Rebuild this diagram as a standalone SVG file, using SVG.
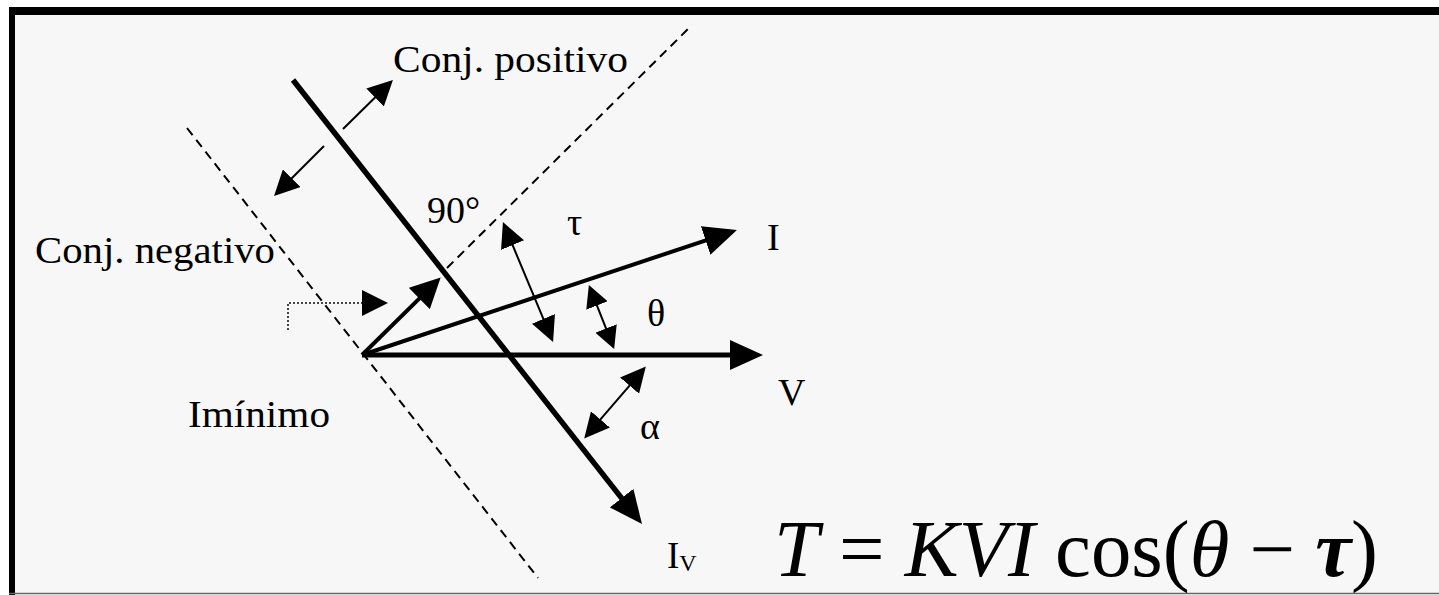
<svg xmlns="http://www.w3.org/2000/svg" width="1439" height="595" viewBox="0 0 1439 595">
<style>
text{font-family:"Liberation Serif","Times New Roman",serif;fill:#000}
.lbl{font-size:38px}
.thick{stroke:#000;fill:none}
.thin{stroke:#000;stroke-width:2;fill:none}
.dash{stroke:#000;stroke-width:2;stroke-dasharray:9 6;fill:none}
.dot{stroke:#444;stroke-width:2;stroke-dasharray:2 2;fill:none}
</style>
<defs>
<marker id="ah" viewBox="0 0 33 30" refX="1" refY="15" markerWidth="33" markerHeight="30" markerUnits="userSpaceOnUse" orient="auto"><path d="M0,0 L33,15 L0,30 z" fill="#000"/></marker>
<marker id="ahm" viewBox="0 0 30 30" refX="1" refY="15" markerWidth="30" markerHeight="30" markerUnits="userSpaceOnUse" orient="auto"><path d="M0,0 L30,15 L0,30 z" fill="#000"/></marker>
<marker id="at" viewBox="0 0 25 25" refX="1" refY="12.5" markerWidth="25" markerHeight="25" markerUnits="userSpaceOnUse" orient="auto-start-reverse"><path d="M0,0 L25,12.5 L0,25 z" fill="#000"/></marker>
<marker id="ats" viewBox="0 0 22 23" refX="1" refY="11.5" markerWidth="22" markerHeight="23" markerUnits="userSpaceOnUse" orient="auto-start-reverse"><path d="M0,0 L22,11.5 L0,23 z" fill="#000"/></marker>
</defs>
<rect x="0" y="0" width="1439" height="595" fill="#ffffff"/>
<rect x="12" y="11" width="1427" height="582" fill="#f7f7f7"/>
<rect x="9" y="7" width="1430" height="8" fill="#000"/>
<rect x="9" y="7" width="6" height="588" fill="#000"/>
<line x1="9" y1="593.5" x2="1439" y2="593.5" stroke="#666" stroke-width="1.5"/>

<g id="connectors">
<line id="main-line" class="thick" stroke-width="5.5" x1="293" y1="80" x2="622.2" y2="498.9" marker-end="url(#ah)"/>
<line id="v-vec" class="thick" stroke-width="5" x1="362" y1="355" x2="731" y2="355" marker-end="url(#ah)"/>
<line id="i-vec" class="thick" stroke-width="4" x1="362" y1="355" x2="706.6" y2="240.1" marker-end="url(#ah)"/>
<line id="min-vec" class="thick" stroke-width="4" x1="362" y1="355" x2="420" y2="297.8" marker-end="url(#ahm)"/>
<line id="dash-right" class="dash" x1="447" y1="268" x2="692" y2="25"/>
<line id="dash-left" class="dash" x1="187" y1="128" x2="538" y2="578"/>
<line id="pos-arrow" class="thin" x1="343" y1="129" x2="375.8" y2="96.8" marker-end="url(#at)"/>
<line id="neg-arrow" class="thin" x1="324" y1="146" x2="291" y2="179" marker-end="url(#at)"/>
<line id="tau-arrow" class="thin" x1="512.2" y1="244.2" x2="543.8" y2="319.8" marker-start="url(#at)" marker-end="url(#at)"/>
<line id="theta-arrow" class="thin" x1="596.6" y1="304.6" x2="606.4" y2="329.4" marker-start="url(#ats)" marker-end="url(#ats)"/>
<line id="alpha-arrow" class="thin" x1="630.2" y1="384.8" x2="599.8" y2="420.2" marker-start="url(#at)" marker-end="url(#at)"/>
<path id="dotted-bracket" class="dot" d="M288,330 V303 H363"/>
<polygon points="362,290 388,303 362,316" fill="#000"/>
</g>

<g id="labels">
<text id="t-pos" class="lbl" x="393" y="72" textLength="235" lengthAdjust="spacingAndGlyphs">Conj. positivo</text>
<text id="t-neg" class="lbl" x="35" y="263" textLength="240" lengthAdjust="spacingAndGlyphs">Conj. negativo</text>
<text id="t-90" class="lbl" x="427" y="223">90°</text>
<text id="t-tau" class="lbl" x="567" y="235">τ</text>
<text id="t-I" class="lbl" x="767" y="250">I</text>
<text id="t-theta" class="lbl" x="647" y="326">θ</text>
<text id="t-V" class="lbl" x="778" y="405">V</text>
<text id="t-alpha" class="lbl" x="640" y="439">α</text>
<text id="t-imin" class="lbl" x="188" y="427" textLength="142" lengthAdjust="spacingAndGlyphs">Imínimo</text>
<text id="t-Iv" x="667" y="568" font-size="37">I<tspan font-size="24" dy="3">V</tspan></text>
<text id="formula" x="774" y="576" font-size="80" textLength="604" lengthAdjust="spacingAndGlyphs"><tspan font-style="italic">T</tspan> = <tspan font-style="italic">KVI</tspan> cos(<tspan font-style="italic">θ</tspan> − <tspan font-style="italic" font-weight="bold">τ</tspan>)</text>
</g>
</svg>
